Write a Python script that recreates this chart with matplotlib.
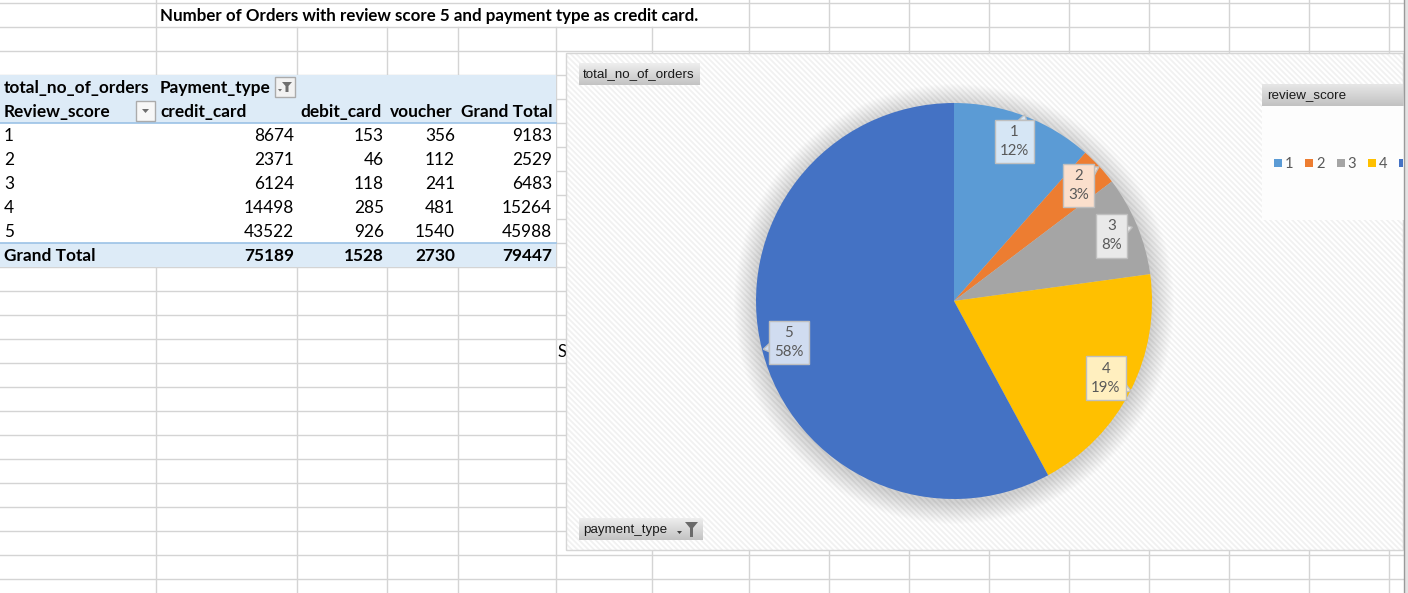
import matplotlib.pyplot as plt
import matplotlib.patches as mpatches
import matplotlib.colors as mcolors
import numpy as np

plt.rcParams['hatch.color'] = '#F1F1F1'
plt.rcParams['hatch.linewidth'] = 1.3

# Donnees du tableau croise (total_no_of_orders)
review_scores = ['1', '2', '3', '4', '5']
credit_card = [8674, 2371, 6124, 14498, 43522]
debit_card = [153, 46, 118, 285, 926]
voucher = [356, 112, 241, 481, 1540]
grand_total = [9183, 2529, 6483, 15264, 45988]
total_row = [75189, 1528, 2730, 79447]
col_headers = ['credit_card', 'debit_card', 'voucher', 'Grand Total']
slice_colors = ['#5B9BD5', '#ED7D31', '#A5A5A5', '#FFC000', '#4472C4']

title = 'Number of Orders with review score 5 and payment type as credit card.'

W, H = 1408, 593
fig = plt.figure(figsize=(W / 100, H / 100), dpi=100)
ax = fig.add_axes([0, 0, 1, 1])
ax.axis('off')

table_font = 'Lato'
chart_font = 'Liberation Sans'
grid_color = '#D4D4D4'

# Quadrillage de la feuille
col_lines = [156, 297, 387, 458, 556, 652, 749, 829, 909, 989, 1069, 1149, 1229, 1309, 1389]
row_lines = list(range(3, H, 24))
for x in col_lines:
    # le titre deborde sur les cellules de la premiere ligne
    top = 27 if 160 < x < 700 else 0
    ax.plot([x, x], [top, H], color=grid_color, lw=1, zorder=0.5)
for y in row_lines:
    ax.plot([0, W], [y, y], color=grid_color, lw=1, zorder=0.5)

ax.text(160, 16.5, title, fontsize=12.2, fontweight='bold', family=table_font,
        va='center', ha='left', zorder=2)
ax.text(558, 352, 'S', fontsize=12, family=table_font, va='center', ha='left', zorder=1)

# Fond du tableau croise
header_blue = '#DDEBF7'
ax.add_patch(mpatches.Rectangle((0, 75), 555.5, 48, fc=header_blue, ec='none', zorder=1))
ax.add_patch(mpatches.Rectangle((0, 123), 555.5, 120, fc='white', ec='none', zorder=1))
ax.add_patch(mpatches.Rectangle((0, 243), 555.5, 24, fc=header_blue, ec='none', zorder=1))
ax.plot([0, 555.5], [123, 123], color='#9BC2E6', lw=1.2, zorder=2)
ax.plot([0, 555.5], [243, 243], color='#9BC2E6', lw=1.2, zorder=2)

fs_tab = 12.4
ax.text(4, 88, 'total_no_of_orders', fontsize=fs_tab, fontweight='bold', family=table_font, va='center', zorder=3)
ax.text(160, 88, 'Payment_type', fontsize=fs_tab, fontweight='bold', family=table_font, va='center', zorder=3)
ax.text(4, 112, 'Review_score', fontsize=fs_tab, fontweight='bold', family=table_font, va='center', zorder=3)
header_x = [160, 300, 390, 461]
for hx, h in zip(header_x, col_headers):
    ax.text(hx, 112, h, fontsize=fs_tab, fontweight='bold', family=table_font, va='center', zorder=3)

# boutons filtre / liste deroulante
ax.add_patch(mpatches.Rectangle((275, 77), 20, 20, fc='#F2F2F2', ec='#ABABAB', lw=1, zorder=3))
ax.add_patch(mpatches.Polygon([[282, 82], [292, 82], [288.5, 86], [288.5, 92], [285.5, 92], [285.5, 86]],
                              closed=True, fc='#6E6E6E', ec='none', zorder=4))
ax.add_patch(mpatches.Polygon([[278, 89], [282, 89], [280, 91.5]], closed=True, fc='#6E6E6E', ec='none', zorder=4))
ax.add_patch(mpatches.Rectangle((136, 101), 19, 20, fc='#F7F7F7', ec='#ABABAB', lw=1, zorder=3))
ax.add_patch(mpatches.Polygon([[142, 109], [149, 109], [145.5, 113]], closed=True, fc='#6E6E6E', ec='none', zorder=4))

right_x = [294, 384, 455, 552]
columns = [credit_card, debit_card, voucher, grand_total]
for i, score in enumerate(review_scores):
    y = 136 + 24 * i
    ax.text(4, y, score, fontsize=fs_tab, family=table_font, va='center', zorder=3)
    for rx, col in zip(right_x, columns):
        ax.text(rx, y, str(col[i]), fontsize=fs_tab, family=table_font, va='center', ha='right', zorder=3)
ax.text(4, 256, 'Grand Total', fontsize=fs_tab, fontweight='bold', family=table_font, va='center', zorder=3)
for rx, v in zip(right_x, total_row):
    ax.text(rx, 256, str(v), fontsize=fs_tab, fontweight='bold', family=table_font, va='center', ha='right', zorder=3)

# Zone du graphique
chart_x0, chart_y0, chart_x1, chart_y1 = 566, 53, 1403, 550
chart_bg = mpatches.Rectangle((chart_x0, chart_y0), chart_x1 - chart_x0, chart_y1 - chart_y0,
                              fc='white', ec='#F1F1F1', hatch='\\\\\\\\\\\\', lw=0, zorder=2)
ax.add_patch(chart_bg)
ax.add_patch(mpatches.Rectangle((chart_x0, chart_y0), chart_x1 - chart_x0, chart_y1 - chart_y0,
                                fc='none', ec='#D6D6D6', lw=1, zorder=2.1))

# bande grise a droite
ax.add_patch(mpatches.Rectangle((1403.5, 0), 5, H, fc='#E3E3E3', ec='none', zorder=6))
ax.plot([1403.5, 1403.5], [0, H], color='#9A9A9A', lw=1, zorder=6)


def gradient_box(x0, y0, x1, y1, top, bottom, z):
    g = np.linspace(0, 1, 32).reshape(-1, 1, 1)
    c0 = np.array(mcolors.to_rgb(top))
    c1 = np.array(mcolors.to_rgb(bottom))
    img = c0 + (c1 - c0) * g
    im = ax.imshow(img, extent=[x0, x1, y1, y0], aspect='auto', zorder=z, interpolation='bilinear')
    im.set_clip_path(chart_bg)


def field_button(x0, y0, x1, y1, label):
    gradient_box(x0, y0, x1, y1, '#EEEEEE', '#C3C3C3', 3)
    ax.text(x0 + 4, (y0 + y1) / 2 + 0.5, label, fontsize=9.6, family=chart_font,
            va='center', ha='left', color='#1A1A1A', zorder=4)


field_button(579, 63, 700, 85, 'total_no_of_orders')
field_button(579, 518, 703, 540, 'payment_type')
ax.add_patch(mpatches.Polygon([[685, 522], [698, 522], [693, 528], [693, 537], [690, 537], [690, 528]],
                              closed=True, fc='#6A6A6A', ec='none', zorder=4))
ax.add_patch(mpatches.Polygon([[677, 531], [682, 531], [679.5, 534]], closed=True, fc='#404040', ec='none', zorder=4))

# Legende
ax.add_patch(mpatches.Rectangle((1262, 106), 142, 114, fc='#FDFDFD', ec='none', zorder=3, clip_path=chart_bg))
gradient_box(1262, 84, 1404, 106, '#E6E6E6', '#C2C2C2', 3)
ax.text(1267, 95.5, 'review_score', fontsize=9.6, family=chart_font, va='center', color='#1A1A1A', zorder=4)
for i, (score, c) in enumerate(zip(review_scores, slice_colors)):
    lx = 1274 + 31.3 * i
    sq = mpatches.Rectangle((lx, 159), 8, 8, fc=c, ec='none', zorder=4)
    ax.add_patch(sq)
    sq.set_clip_path(chart_bg)
    # le texte hors du cadre du graphique n'est pas visible
    if lx + 20 < chart_x1:
        ax.text(lx + 11, 163.5, score, fontsize=10.6, family=table_font, va='center', color='#595959', zorder=4)

# ombre du camembert
cx, cy, r = 954, 301, 198
for k in range(1, 23):
    ax.add_patch(mpatches.Circle((cx, cy + 3), r + k, fc='black', ec='none', alpha=0.0085, zorder=2.5))

ax.set_xlim(0, W)
ax.set_ylim(H, 0)

# Camembert (paiement par carte de credit)
axp = fig.add_axes([(cx - r) / W, (H - cy - r) / H, 2 * r / W, 2 * r / H])
axp.set_facecolor('none')
total_cc = sum(credit_card)
pct = [round(v * 100 / total_cc) for v in credit_card]
labels = [f'{s}\n{p}%' for s, p in zip(review_scores, pct)]
wedges, texts = axp.pie(credit_card, labels=labels, colors=slice_colors, startangle=90,
                        counterclock=False, labeldistance=0.86,
                        wedgeprops=dict(linewidth=0),
                        textprops=dict(ha='center', va='center', color='#595959', fontsize=10.8,
                                       family=table_font, linespacing=1.45))
axp.set_xlim(-1, 1)
axp.set_ylim(-1, 1)
axp.axis('off')

light_colors = []
for c in slice_colors:
    rgb = np.array(mcolors.to_rgb(c))
    light_colors.append(tuple(0.25 * rgb + 0.75))
for t, lc in zip(texts, light_colors):
    t.set_bbox(dict(boxstyle='square,pad=0.34', fc=lc, ec='#BFBFBF', lw=1))
    t.set_zorder(4)

# petites pointes des etiquettes
fig.canvas.draw()
renderer = fig.canvas.get_renderer()
inv = axp.transData.inverted()
px = 1 / r
for w, t, lc in zip(wedges, texts, light_colors):
    theta = np.deg2rad((w.theta1 + w.theta2) / 2)
    ux, uy = np.cos(theta), np.sin(theta)
    bb = t.get_bbox_patch().get_window_extent(renderer)
    (bx0, by0), (bx1, by1) = inv.transform([[bb.x0, bb.y0], [bb.x1, bb.y1]])
    mx, my = (bx0 + bx1) / 2, (by0 + by1) / 2
    hw, hh = (bx1 - bx0) / 2, (by1 - by0) / 2
    tx = hw / abs(ux) if abs(ux) > 1e-6 else np.inf
    ty = hh / abs(uy) if abs(uy) > 1e-6 else np.inf
    tt = min(tx, ty)
    ex, ey = mx + tt * ux, my + tt * uy
    if tx < ty:
        ex = mx + np.sign(ux) * hw
        base = [[ex, ey + 4 * px], [ex, ey - 4 * px]]
    else:
        ey = my + np.sign(uy) * hh
        base = [[ex + 4 * px, ey], [ex - 4 * px, ey]]
    tip = [ex + 6 * px * ux, ey + 6 * px * uy]
    axp.add_patch(mpatches.Polygon(base + [tip], closed=True, fc=lc, ec='#BFBFBF', lw=1,
                                   zorder=3.5, clip_on=False))

fig.savefig('out.png', dpi=100)
